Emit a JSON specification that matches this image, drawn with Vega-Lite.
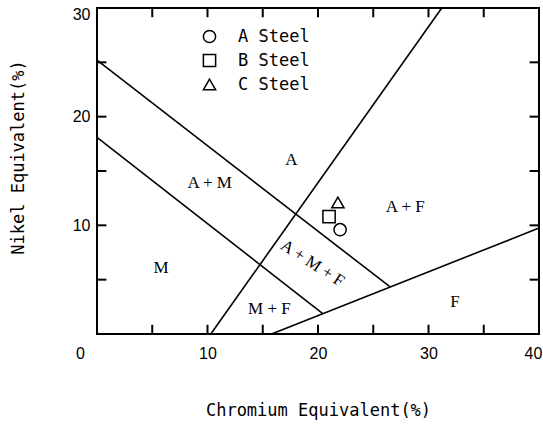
{
  "$schema": "https://vega.github.io/schema/vega-lite/v6.json",
  "width": 442,
  "height": 326,
  "autosize": {"type": "none"},
  "padding": {"left": 97, "top": 8, "right": 4, "bottom": 90},
  "background": "white",
  "config": {
    "view": {"stroke": "black", "strokeWidth": 2},
    "axis": {
      "domain": false,
      "grid": false,
      "labelColor": "black",
      "labelFont": "Liberation Sans",
      "labelFontSize": 16,
      "titleColor": "black",
      "titleFont": "DejaVu Sans Mono",
      "titleFontSize": 17,
      "titleFontWeight": "normal"
    }
  },
  "datasets": {
    "lines": [
      {"line": "upper", "cr": 0, "ni": 25.2},
      {"line": "upper", "cr": 26.5, "ni": 4.35},
      {"line": "lower", "cr": 0, "ni": 18.1},
      {"line": "lower", "cr": 20.4, "ni": 1.9},
      {"line": "diag", "cr": 10.3, "ni": 0},
      {"line": "diag", "cr": 31.2, "ni": 30},
      {"line": "ferrite", "cr": 15.8, "ni": 0},
      {"line": "ferrite", "cr": 40, "ni": 9.75}
    ],
    "steels": [
      {"steel": "A Steel", "cr": 22.0, "ni": 9.6},
      {"steel": "B Steel", "cr": 21.0, "ni": 10.8},
      {"steel": "C Steel", "cr": 21.8, "ni": 12.1}
    ],
    "regions": [
      {"label": "A", "cr": 17.6, "ni": 16.0},
      {"label": "A + M", "cr": 10.2, "ni": 13.9},
      {"label": "A + F", "cr": 27.9, "ni": 11.7},
      {"label": "M", "cr": 5.8, "ni": 6.1},
      {"label": "M + F", "cr": 15.6, "ni": 2.3},
      {"label": "F", "cr": 32.4, "ni": 2.9},
      {"label": "A + M + F", "cr": 19.5, "ni": 6.5}
    ],
    "xticks": [{"v": 5}, {"v": 10}, {"v": 15}, {"v": 20}, {"v": 25}, {"v": 30}, {"v": 35}],
    "yticks": [{"v": 5}, {"v": 10}, {"v": 15}, {"v": 20}, {"v": 25}]
  },
  "layer": [
    {
      "data": {"name": "lines"},
      "mark": {"type": "line", "color": "black", "strokeWidth": 1.6},
      "encoding": {
        "x": {
          "field": "cr", "type": "quantitative",
          "scale": {"domain": [0, 40], "nice": false, "zero": false},
          "axis": {
            "orient": "bottom",
            "title": "Chromium Equivalent(%)",
            "values": [0, 10, 20, 30, 40],
            "labelOffset": {"condition": [{"test": "datum.value === 0", "value": -17}, {"test": "datum.value === 40", "value": -6}], "value": 0},
            "ticks": false,
            "tickSize": 0,
            "labelPadding": 11,
            "labelFlush": false,
            "titleY": 76,
            "titleBaseline": "middle"
          }
        },
        "y": {
          "field": "ni", "type": "quantitative",
          "scale": {"domain": [0, 30], "nice": false, "zero": false},
          "axis": {
            "orient": "left",
            "title": "Nikel Equivalent(%)",
            "values": [10, 20, 30],
            "ticks": false,
            "tickSize": 0,
            "labelPadding": 7,
            "labelFlush": true,
            "labelFlushOffset": 2,
            "titleX": -79,
            "titleY": 149,
            "titleBaseline": "middle"
          }
        },
        "detail": {"field": "line"}
      }
    },
    {
      "data": {"name": "xticks"},
      "mark": {"type": "rule", "color": "black", "strokeWidth": 2},
      "encoding": {
        "x": {"field": "v", "type": "quantitative", "axis": null},
        "y": {"datum": 0, "type": "quantitative", "axis": null},
        "y2": {"datum": 0.85}
      }
    },
    {
      "data": {"name": "xticks"},
      "mark": {"type": "rule", "color": "black", "strokeWidth": 2},
      "encoding": {
        "x": {"field": "v", "type": "quantitative", "axis": null},
        "y": {"datum": 30, "type": "quantitative", "axis": null},
        "y2": {"datum": 29.15}
      }
    },
    {
      "data": {"name": "yticks"},
      "mark": {"type": "rule", "color": "black", "strokeWidth": 2},
      "encoding": {
        "y": {"field": "v", "type": "quantitative", "axis": null},
        "x": {"datum": 0, "type": "quantitative", "axis": null},
        "x2": {"datum": 0.85}
      }
    },
    {
      "data": {"name": "yticks"},
      "mark": {"type": "rule", "color": "black", "strokeWidth": 2},
      "encoding": {
        "y": {"field": "v", "type": "quantitative", "axis": null},
        "x": {"datum": 40, "type": "quantitative", "axis": null},
        "x2": {"datum": 39.15}
      }
    },
    {
      "data": {"name": "steels"},
      "mark": {"type": "point", "filled": false, "color": "black", "strokeWidth": 1.5, "size": 150, "opacity": 1},
      "encoding": {
        "x": {"field": "cr", "type": "quantitative", "axis": null},
        "y": {"field": "ni", "type": "quantitative", "axis": null},
        "shape": {
          "field": "steel", "type": "nominal",
          "scale": {"domain": ["A Steel", "B Steel", "C Steel"], "range": ["circle", "square", "triangle-up"]},
          "legend": {
            "orient": "none",
            "legendX": 104,
            "legendY": 20,
            "title": null,
            "padding": 0,
            "labelFont": "DejaVu Sans Mono",
            "labelFontSize": 17,
            "labelColor": "black",
            "labelOffset": 20,
            "rowPadding": 5,
            "symbolSize": 150,
            "symbolStrokeWidth": 1.5,
            "symbolStrokeColor": "black",
            "symbolFillColor": "transparent",
            "symbolOpacity": 1
          }
        }
      }
    },
    {
      "data": {"name": "regions"},
      "transform": [{"filter": "datum.label !== 'A + M + F'"}],
      "mark": {"type": "text", "font": "Liberation Serif", "fontSize": 17, "color": "black", "align": "center", "baseline": "middle"},
      "encoding": {
        "x": {"field": "cr", "type": "quantitative", "axis": null},
        "y": {"field": "ni", "type": "quantitative", "axis": null},
        "text": {"field": "label"}
      }
    },
    {
      "data": {"name": "regions"},
      "transform": [{"filter": "datum.label === 'A + M + F'"}],
      "mark": {"type": "text", "font": "Liberation Serif", "fontSize": 17, "color": "black", "align": "center", "baseline": "middle", "angle": 33},
      "encoding": {
        "x": {"field": "cr", "type": "quantitative", "axis": null},
        "y": {"field": "ni", "type": "quantitative", "axis": null},
        "text": {"field": "label"}
      }
    }
  ],
  "resolve": {"axis": {"x": "independent", "y": "independent"}}
}
